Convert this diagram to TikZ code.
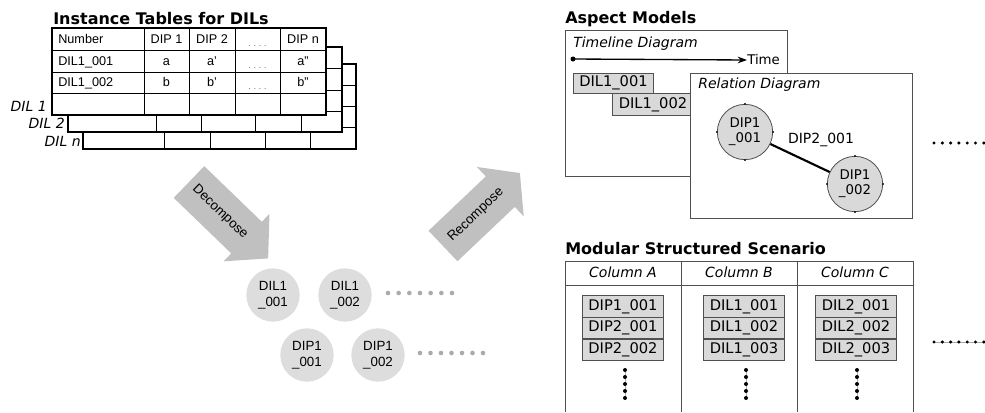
\documentclass[tikz,border=0pt]{standalone}
\usepackage{fontspec}
\setmainfont{Liberation Sans}
\newfontfamily\vfont{DejaVu Sans}
\usetikzlibrary{arrows.meta}
\definecolor{arrowgray}{RGB}{192,192,192}
\definecolor{circgray}{RGB}{221,221,221}
\definecolor{boxgray}{RGB}{217,217,217}
\definecolor{bordergray}{RGB}{80,80,80}
\definecolor{dotgray}{RGB}{170,170,170}
\begin{document}
\begin{tikzpicture}[x=0.75pt,y=-0.75pt,
  title/.style={font=\vfont\bfseries\fontsize{12}{14}\selectfont, anchor=base west, inner sep=0},
  cell/.style={font=\fontsize{9.5}{11}\selectfont, inner sep=0, anchor=base},
  celll/.style={cell, anchor=base west},
  ell/.style={font=\fontsize{6}{7}\selectfont, inner sep=0, anchor=base, text=black!70},
  dillab/.style={font=\vfont\itshape\fontsize{10.5}{12}\selectfont, inner sep=0, anchor=base east},
  tblout/.style={draw=black, fill=white, line width=1.1pt},
  tblin/.style={draw=black, line width=0.5pt},
  bigarrow/.style={fill=arrowgray},
  arrowtext/.style={font=\fontsize{10}{12}\selectfont, inner sep=0},
  mcirc/.style={circle, fill=circgray, minimum size=40pt, inner sep=0, align=center,
    font=\fontsize{10}{12}\selectfont},
  gdot/.style={fill=dotgray},
  frame/.style={draw=bordergray, line width=0.75pt},
  subhead/.style={font=\vfont\itshape\fontsize{10.5}{12}\selectfont, inner sep=0},
  tbox/.style={draw=bordergray, fill=boxgray, line width=0.6pt, inner sep=0, outer sep=0,
    minimum width=61pt, minimum height=16.2pt, font=\vfont\fontsize{11}{13}\selectfont},
  rcirc/.style={circle, draw=bordergray, fill=boxgray, line width=0.6pt, inner sep=0,
    minimum size=41.5pt, align=center, font=\vfont\fontsize{10}{11.5}\selectfont},
  vtext/.style={font=\vfont\fontsize{10.5}{12}\selectfont, inner sep=0},
  bdot/.style={fill=black}
]
\useasboundingbox (0,0) rectangle (985,412);
\fill[white] (0,0) rectangle (985,412);

% ---------------- Instance tables ----------------
\node[title] (t1title) at (53,24) {Instance Tables for DILs};

% table n
\draw[tblout] (83,64) rectangle (356,149);
\foreach \c in {164,210,265,310} \draw[tblin] (\c,64) -- (\c,149);
\foreach \r in {85,106,127} \draw[tblin] (83,\r) -- (356,\r);
% table 2
\draw[tblout] (68,47) rectangle (342,132);
\foreach \c in {156,201,255,301} \draw[tblin] (\c,47) -- (\c,132);
\foreach \r in {68,90,111} \draw[tblin] (68,\r) -- (342,\r);
% table 1
\draw[tblout] (52,28) rectangle (326,115);
\foreach \c in {144,189,235,280} \draw[tblin] (\c,28) -- (\c,115);
\foreach \r in {50,72,93} \draw[tblin] (52,\r) -- (326,\r);

\node[celll] (c00) at (58,43) {Number};
\node[cell] (c01) at (166.5,43) {DIP 1};
\node[cell] (c02) at (212,43) {DIP 2};
\node[ell] (c03) at (257.5,46) {. . . .};
\node[cell] (c04) at (303,43) {DIP n};
\node[celll] (c10) at (58,65) {DIL1\_001};
\node[cell] (c11) at (166.5,65) {a};
\node[cell] (c12) at (212,65) {a'};
\node[ell] (c13) at (257.5,68) {. . . .};
\node[cell] (c14) at (303,65) {a''};
\node[celll] (c20) at (58,86) {DIL1\_002};
\node[cell] (c21) at (166.5,86) {b};
\node[cell] (c22) at (212,86) {b'};
\node[ell] (c23) at (257.5,89) {. . . .};
\node[cell] (c24) at (303,86) {b''};

\node[dillab] (l1) at (47,111) {DIL 1};
\node[dillab] (l2) at (65,128) {DIL 2};
\node[dillab] (ln) at (81,146) {DIL n};

% ---------------- big arrows ----------------
\begin{scope}[shift={(189,182)}, rotate=-44]
  \fill[bigarrow] (0,-22) -- (80,-22) -- (80,-33) -- (110,0) -- (80,33) -- (80,22) -- (0,22) -- cycle;
\end{scope}
\node[arrowtext, rotate=-44] (decomp) at (220,212) {Decompose};
\begin{scope}[shift={(443,246)}, rotate=43.5]
  \fill[bigarrow] (0,-21) -- (79,-21) -- (79,-34) -- (106,0) -- (79,34) -- (79,21) -- (0,21) -- cycle;
\end{scope}
\node[arrowtext, rotate=43.5] (recomp) at (476,215) {Recompose};

% ---------------- middle circles ----------------
\node[mcirc] (m1) at (273,295) {DIL1\\\_001};
\node[mcirc] (m2) at (345,295) {DIL1\\\_002};
\node[mcirc] (m3) at (307,355) {DIP1\\\_001};
\node[mcirc] (m4) at (378,355) {DIP1\\\_002};
\foreach \i in {0,...,6} \fill[gdot] (388+10.67*\i,293) circle (2.3);
\foreach \i in {0,...,6} \fill[gdot] (420+10.5*\i,353) circle (2.3);

% ---------------- Aspect models ----------------
\node[title] (amtitle) at (565,23) {Aspect Models};
\draw[frame, fill=white] (565,30) rectangle (787,176);
\node[subhead, anchor=base west] (tlhead) at (573,47) {Timeline Diagram};
\coordinate (t0) at (573,59);
\node[vtext, anchor=west, font=\vfont\fontsize{10}{12}\selectfont] (time) at (747,60) {Time};
\fill (t0) circle (2.5);
\draw[line width=1pt, -{Stealth[length=7pt,width=5pt]}] (t0) -- (time.west);
\node[tbox, minimum width=60.5pt, minimum height=15pt] (tl1) at (613.5,83) {DIL1\_001};
\node[tbox, minimum width=61.5pt, minimum height=16.5pt] (tl2) at (653,104.5) {DIL1\_002};

\draw[frame, fill=white] (690,73) rectangle (912,218);
\node[subhead, anchor=base west] (rdhead) at (698,88) {Relation Diagram};
\node[rcirc] (r1) at (745,132) {DIP1\\\_001};
\node[rcirc] (r2) at (855,184) {DIP1\\\_002};
\foreach \n in {r1,r2} \foreach \a in {0,90,180,270} \fill (\n.\a) circle (1);
\draw[line width=1.6pt] (r1) -- (r2);
\node[vtext] (rel) at (821,140) {DIP2\_001};

\foreach \i in {0,...,6} \fill[bdot] (934+8.3*\i,143) circle (1.7);

% ---------------- Modular structured scenario ----------------
\node[title] (mstitle) at (565,254) {Modular Structured Scenario};
\draw[frame] (565,412) -- (565,261) -- (913,261) -- (913,412);
\draw[frame] (681,261) -- (681,412);
\draw[frame] (797,261) -- (797,412);
\draw[frame] (565,285) -- (913,285);
\node[subhead, anchor=base] (colA) at (623,277) {Column A};
\node[subhead, anchor=base] (colB) at (739,277) {Column B};
\node[subhead, anchor=base] (colC) at (855,277) {Column C};

\node[tbox] (a1) at (623,306.5) {DIP1\_001};
\node[tbox] (a2) at (623,328) {DIP2\_001};
\node[tbox] (a3) at (623,350) {DIP2\_002};
\node[tbox] (b1) at (744,306.5) {DIL1\_001};
\node[tbox] (b2) at (744,328) {DIL1\_002};
\node[tbox] (b3) at (744,350) {DIL1\_003};
\node[tbox] (cc1) at (856,306.5) {DIL2\_001};
\node[tbox] (cc2) at (856,328) {DIL2\_002};
\node[tbox] (cc3) at (856,350) {DIL2\_003};

\foreach \x in {625,746,857} {
  \draw[dotgray, line width=0.4pt] (\x,370) -- (\x,398);
  \foreach \j in {0,...,4} \fill[bdot] (\x,370+7*\j) circle (2);
}
\draw[dotgray, line width=0.4pt] (934,342) -- (985,342);
\foreach \i in {0,...,6} \fill[bdot] (934+8.3*\i,342) circle (1.7);
\end{tikzpicture}
\end{document}
